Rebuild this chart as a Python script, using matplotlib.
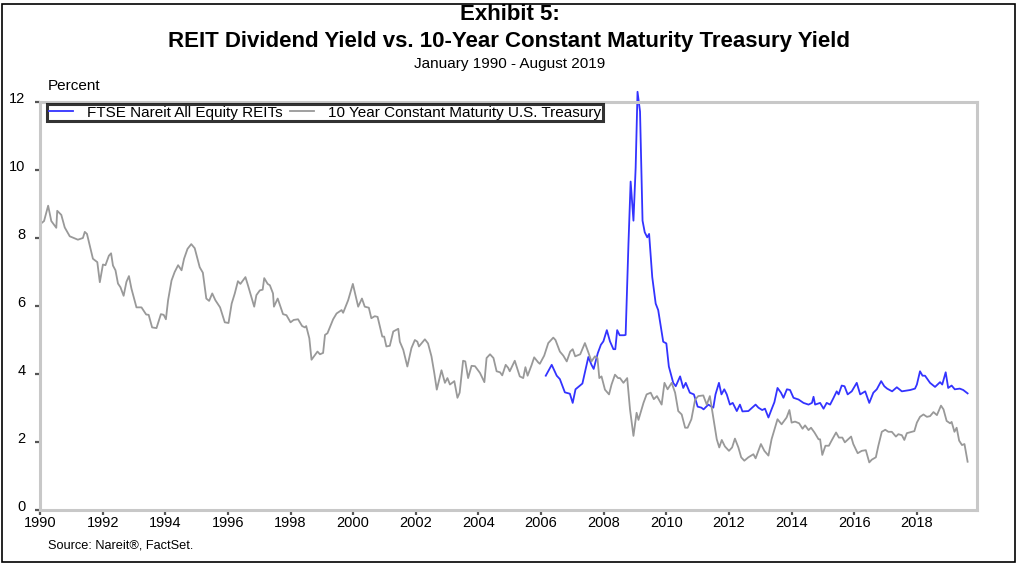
import matplotlib
matplotlib.use("Agg")
import matplotlib.pyplot as plt
from matplotlib.patches import Rectangle
from matplotlib.transforms import ScaledTranslation

plt.rcParams["font.family"] = ["Liberation Sans", "DejaVu Sans"]

# 10 Year Constant Maturity U.S. Treasury (percent)
tsy_t = [1990.00, 1990.13, 1990.26, 1990.36, 1990.52, 1990.55, 1990.68, 1990.79, 1990.95, 1991.21,
         1991.37, 1991.43, 1991.50, 1991.69, 1991.83, 1991.91, 1992.01, 1992.09, 1992.20, 1992.27,
         1992.33, 1992.41, 1992.49, 1992.57, 1992.67, 1992.76, 1992.84, 1992.92, 1993.08, 1993.24,
         1993.39, 1993.47, 1993.58, 1993.72, 1993.86, 1993.95, 1994.02, 1994.09, 1994.20, 1994.30,
         1994.41, 1994.52, 1994.60, 1994.71, 1994.83, 1994.94, 1995.10, 1995.20, 1995.31, 1995.40,
         1995.50, 1995.60, 1995.75, 1995.90, 1996.02, 1996.12, 1996.22, 1996.32, 1996.40, 1996.56,
         1996.64, 1996.84, 1996.91, 1997.02, 1997.11, 1997.16, 1997.27, 1997.34, 1997.44, 1997.47,
         1997.59, 1997.66, 1997.76, 1997.87, 1998.00, 1998.10, 1998.24, 1998.37, 1998.46, 1998.50,
         1998.60, 1998.67, 1998.78, 1998.86, 1998.94, 1999.04, 1999.10, 1999.18, 1999.36, 1999.47,
         1999.63, 1999.68, 1999.84, 1999.99, 2000.16, 2000.28, 2000.37, 2000.50, 2000.58, 2000.69,
         2000.78, 2000.93, 2000.99, 2001.06, 2001.17, 2001.28, 2001.44, 2001.49, 2001.60, 2001.73,
         2001.86, 2001.97, 2002.05, 2002.10, 2002.29, 2002.39, 2002.50, 2002.59, 2002.67, 2002.82,
         2002.93, 2003.01, 2003.09, 2003.23, 2003.33, 2003.40, 2003.51, 2003.58, 2003.67, 2003.78,
         2003.89, 2004.05, 2004.19, 2004.26, 2004.37, 2004.48, 2004.58, 2004.69, 2004.76, 2004.87,
         2004.95, 2005.00, 2005.16, 2005.32, 2005.43, 2005.50, 2005.57, 2005.70, 2005.78, 2005.91,
         2005.96, 2006.10, 2006.23, 2006.39, 2006.46, 2006.60, 2006.71, 2006.82, 2006.93, 2007.01,
         2007.09, 2007.25, 2007.40, 2007.50, 2007.61, 2007.72, 2007.80, 2007.86, 2007.93, 2008.04,
         2008.17, 2008.25, 2008.36, 2008.46, 2008.52, 2008.63, 2008.75, 2008.84, 2008.95, 2009.05,
         2009.11, 2009.27, 2009.37, 2009.50, 2009.60, 2009.70, 2009.85, 2009.94, 2010.04, 2010.17,
         2010.28, 2010.38, 2010.49, 2010.60, 2010.68, 2010.80, 2010.92, 2011.02, 2011.18, 2011.29,
         2011.39, 2011.50, 2011.61, 2011.69, 2011.77, 2011.87, 2012.00, 2012.10, 2012.19, 2012.30,
         2012.39, 2012.49, 2012.62, 2012.78, 2012.85, 2013.02, 2013.13, 2013.26, 2013.36, 2013.47,
         2013.55, 2013.68, 2013.84, 2013.93, 2014.00, 2014.11, 2014.24, 2014.35, 2014.43, 2014.54,
         2014.62, 2014.73, 2014.86, 2014.91, 2014.98, 2015.08, 2015.19, 2015.27, 2015.42, 2015.51,
         2015.62, 2015.70, 2015.90, 2015.97, 2016.11, 2016.24, 2016.37, 2016.48, 2016.56, 2016.69,
         2016.77, 2016.88, 2016.99, 2017.09, 2017.20, 2017.33, 2017.41, 2017.52, 2017.60, 2017.68,
         2017.84, 2017.92, 2018.00, 2018.10, 2018.21, 2018.32, 2018.42, 2018.53, 2018.64, 2018.77,
         2018.85, 2018.95, 2019.06, 2019.11, 2019.20, 2019.27, 2019.35, 2019.44, 2019.52, 2019.62]
tsy_v = [8.40, 8.50, 8.95, 8.50, 8.30, 8.80, 8.68, 8.31, 8.05, 7.95,
         8.00, 8.18, 8.12, 7.39, 7.29, 6.70, 7.22, 7.20, 7.48, 7.55,
         7.19, 7.05, 6.66, 6.55, 6.30, 6.71, 6.88, 6.51, 5.96, 5.96,
         5.75, 5.74, 5.37, 5.35, 5.76, 5.74, 5.61, 6.17, 6.75, 7.00,
         7.20, 7.05, 7.39, 7.68, 7.82, 7.70, 7.14, 6.98, 6.22, 6.15,
         6.37, 6.17, 5.96, 5.52, 5.50, 6.07, 6.37, 6.73, 6.65, 6.85,
         6.61, 5.98, 6.32, 6.46, 6.48, 6.82, 6.65, 6.61, 6.37, 5.98,
         6.22, 6.03, 5.76, 5.73, 5.52, 5.59, 5.61, 5.41, 5.37, 5.41,
         5.05, 4.42, 4.56, 4.66, 4.58, 4.62, 5.15, 5.20, 5.61, 5.78,
         5.88, 5.80, 6.17, 6.65, 5.98, 6.22, 5.98, 5.95, 5.64, 5.70,
         5.68, 5.10, 5.10, 4.81, 4.83, 5.25, 5.33, 4.95, 4.71, 4.22,
         4.76, 5.00, 4.95, 4.81, 5.02, 4.90, 4.52, 4.03, 3.54, 4.11,
         3.74, 3.88, 3.69, 3.79, 3.30, 3.45, 4.39, 4.37, 3.88, 4.24,
         4.23, 4.03, 3.76, 4.47, 4.58, 4.47, 4.08, 4.05, 3.96, 4.27,
         4.18, 4.08, 4.39, 3.93, 3.88, 4.20, 3.95, 4.27, 4.49, 4.34,
         4.30, 4.54, 4.91, 5.07, 5.00, 4.66, 4.54, 4.37, 4.66, 4.73,
         4.52, 4.58, 4.91, 4.66, 4.37, 4.52, 4.47, 3.88, 3.93, 3.54,
         3.40, 3.69, 3.98, 3.88, 3.88, 3.74, 3.88, 2.96, 2.18, 2.86,
         2.65, 3.15, 3.40, 3.45, 3.26, 3.35, 3.10, 3.74, 3.55, 3.74,
         3.45, 2.91, 2.81, 2.42, 2.42, 2.67, 3.25, 3.35, 3.37, 3.10,
         3.35, 2.72, 2.08, 1.84, 2.06, 1.87, 1.74, 1.84, 2.10, 1.84,
         1.55, 1.45, 1.55, 1.64, 1.52, 1.94, 1.74, 1.60, 2.08, 2.42,
         2.67, 2.52, 2.72, 2.94, 2.57, 2.60, 2.55, 2.39, 2.49, 2.35,
         2.42, 2.28, 2.08, 2.08, 1.62, 1.89, 1.89, 2.03, 2.28, 2.13,
         2.13, 1.99, 2.16, 1.94, 1.67, 1.74, 1.76, 1.40, 1.48, 1.55,
         1.89, 2.30, 2.36, 2.30, 2.30, 2.16, 2.23, 2.20, 2.06, 2.26,
         2.30, 2.32, 2.57, 2.74, 2.81, 2.74, 2.76, 2.88, 2.79, 3.07,
         2.96, 2.62, 2.55, 2.59, 2.30, 2.42, 2.04, 1.91, 1.94, 1.42]

# FTSE Nareit All Equity REITs dividend yield (percent)
reit_t = [2006.15, 2006.34, 2006.50, 2006.60, 2006.76, 2006.92, 2007.01, 2007.10, 2007.23, 2007.32,
          2007.51, 2007.61, 2007.68, 2007.81, 2007.91, 2007.99, 2008.10, 2008.20, 2008.31, 2008.37,
          2008.43, 2008.51, 2008.65, 2008.70, 2008.79, 2008.86, 2008.95, 2009.02, 2009.08, 2009.16,
          2009.24, 2009.31, 2009.39, 2009.45, 2009.55, 2009.66, 2009.74, 2009.90, 2010.00, 2010.08,
          2010.22, 2010.30, 2010.44, 2010.54, 2010.62, 2010.75, 2010.88, 2011.00, 2011.12, 2011.19,
          2011.34, 2011.50, 2011.57, 2011.68, 2011.76, 2011.85, 2011.93, 2012.03, 2012.12, 2012.25,
          2012.35, 2012.43, 2012.62, 2012.85, 2012.94, 2013.06, 2013.15, 2013.26, 2013.36, 2013.45,
          2013.55, 2013.66, 2013.74, 2013.85, 2013.95, 2014.06, 2014.22, 2014.38, 2014.54, 2014.65,
          2014.70, 2014.75, 2014.91, 2015.02, 2015.12, 2015.23, 2015.34, 2015.44, 2015.50, 2015.60,
          2015.69, 2015.79, 2015.92, 2016.08, 2016.19, 2016.35, 2016.48, 2016.61, 2016.72, 2016.86,
          2016.96, 2017.05, 2017.21, 2017.36, 2017.52, 2017.79, 2017.94, 2018.00, 2018.10, 2018.18,
          2018.26, 2018.42, 2018.58, 2018.74, 2018.81, 2018.92, 2019.00, 2019.11, 2019.21, 2019.37,
          2019.48, 2019.62]
reit_v = [3.95, 4.27, 3.95, 3.85, 3.46, 3.42, 3.15, 3.55, 3.65, 3.72,
          4.50, 4.27, 4.15, 4.61, 4.86, 4.96, 5.29, 4.96, 4.73, 4.73,
          5.29, 5.14, 5.14, 5.15, 7.82, 9.66, 8.51, 10.06, 12.30, 11.72,
          8.51, 8.17, 8.02, 8.12, 6.85, 6.07, 5.88, 4.95, 4.90, 4.22,
          3.74, 3.64, 3.93, 3.59, 3.74, 3.45, 3.40, 3.04, 3.01, 2.96,
          3.10, 3.01, 3.40, 3.74, 3.40, 3.55, 3.40, 3.10, 3.15, 2.91,
          3.10, 2.90, 2.91, 3.10, 3.01, 2.94, 2.98, 2.72, 2.96, 3.17,
          3.59, 3.45, 3.30, 3.55, 3.53, 3.30, 3.25, 3.15, 3.10, 3.15,
          3.33, 3.10, 3.15, 2.98, 3.15, 3.10, 3.30, 3.49, 3.40, 3.66,
          3.64, 3.40, 3.49, 3.74, 3.40, 3.49, 3.15, 3.45, 3.55, 3.79,
          3.64, 3.57, 3.49, 3.61, 3.49, 3.53, 3.57, 3.69, 4.08, 3.95,
          3.95, 3.74, 3.62, 3.76, 3.69, 4.05, 3.59, 3.66, 3.55, 3.57,
          3.53, 3.43]

x_ticks = list(range(1990, 2019, 2))
y_ticks = list(range(0, 13, 2))

W, H = 1019, 569
fig = plt.figure(figsize=(W / 100, H / 100), dpi=100)
ax = fig.add_axes([40 / W, 1 - 510 / H, (977 - 40) / W, (510 - 102) / H])

ax.plot(reit_t, reit_v, color="#3333ff", lw=1.3, clip_on=False,
        label="FTSE Nareit All Equity REITs")
ax.plot(tsy_t, tsy_v, color="#999999", lw=1.3,
        label="10 Year Constant Maturity U.S. Treasury")

ax.set_xlim(1990, 2019.92)
ax.set_ylim(0, 12)
ax.set_xticks(x_ticks)
ax.set_yticks(y_ticks)
for s in ax.spines.values():
    s.set_color("#c8c8c8")
    s.set_linewidth(2.2)
ax.tick_params(axis="both", direction="out", length=3.5, width=1.6, color="#555555",
               labelsize=10.5, labelcolor="black")
ax.tick_params(axis="y", pad=7)
ax.tick_params(axis="x", pad=1)
for lab in ax.get_yticklabels():
    lab.set_transform(lab.get_transform() + ScaledTranslation(0, 3 / 72, fig.dpi_scale_trans))

leg = ax.legend(loc="upper left", bbox_to_anchor=(0.0075, 0.995), ncol=2, fontsize=11,
                frameon=True, fancybox=False, borderpad=0.1, borderaxespad=0,
                handlelength=1.6, handletextpad=0.9, columnspacing=0.5)
leg.get_frame().set_edgecolor("black")
leg.get_frame().set_linewidth(2.2)

fig.text(0.5, 1 - 20 / H, "Exhibit 5:", ha="center", va="baseline",
         fontsize=16, fontweight="bold")
fig.text(0.5, 1 - 47 / H, "REIT Dividend Yield vs. 10-Year Constant Maturity Treasury Yield",
         ha="center", va="baseline", fontsize=16, fontweight="bold")
fig.text(0.5, 1 - 68 / H, "January 1990 - August 2019", ha="center", va="baseline", fontsize=11)
fig.text(48 / W, 1 - 90 / H, "Percent", ha="left", va="baseline", fontsize=11)
fig.text(48 / W, 1 - 549 / H, "Source: Nareit®, FactSet.", ha="left", va="baseline", fontsize=9.2)

fig.patches.append(Rectangle((2 / W, 1 - 562 / H), (1015 - 2) / W, (562 - 4) / H,
                             transform=fig.transFigure, fill=False, edgecolor="black", lw=1.2))

fig.savefig("out.png", dpi=100)
